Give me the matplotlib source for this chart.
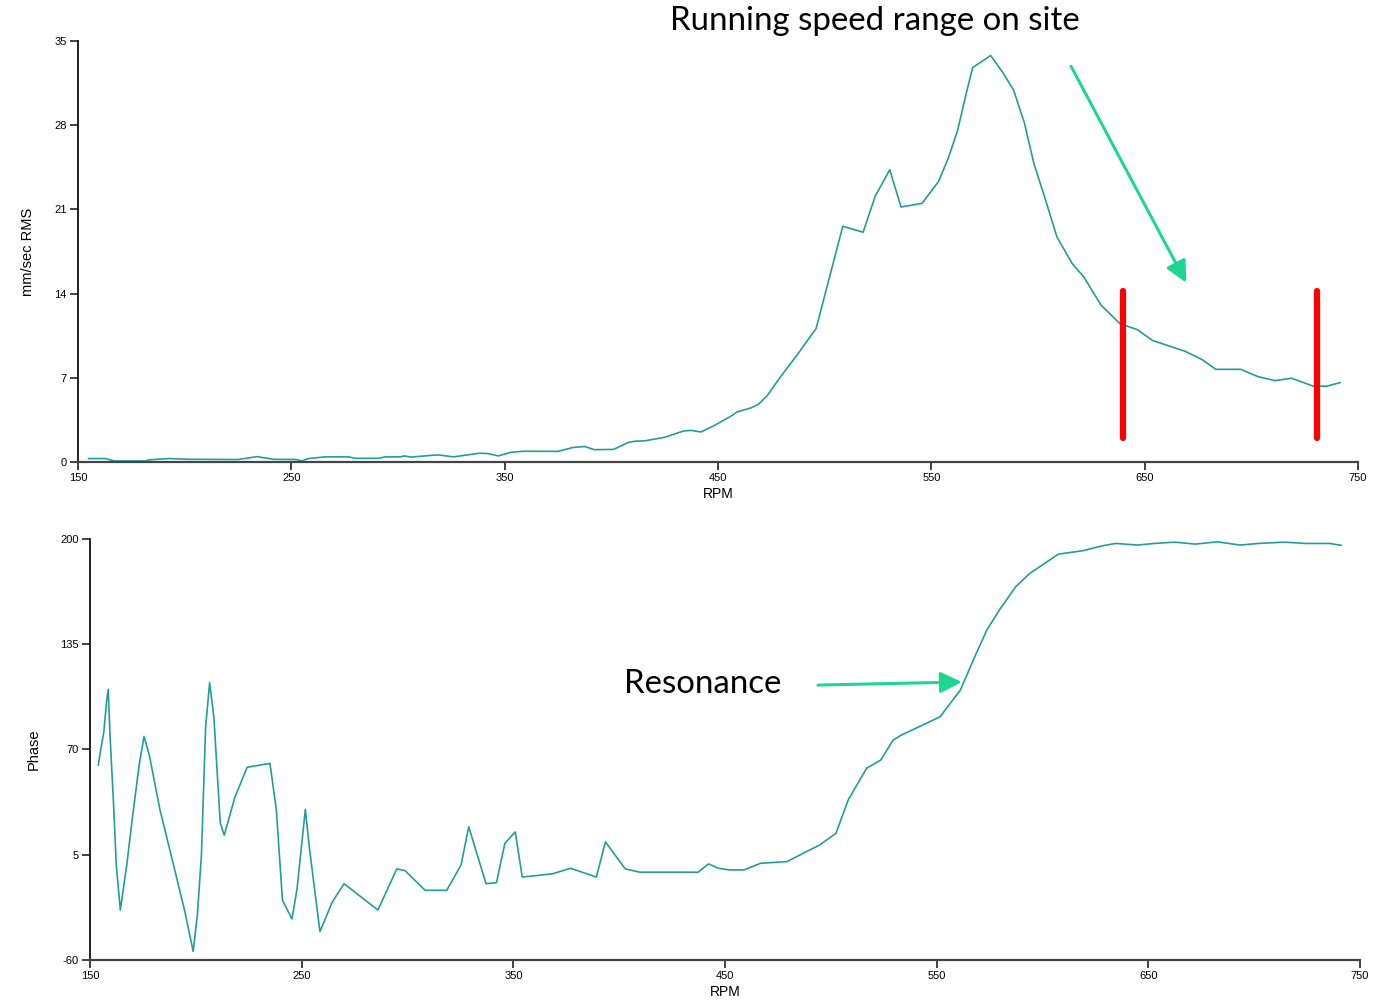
import matplotlib
matplotlib.use("Agg")
import matplotlib.pyplot as plt

plt.rcParams["axes.unicode_minus"] = False

# Vibration amplitude (mm/sec RMS) against shaft speed
amp_rpm = [155, 163, 167, 182, 183, 192.5, 202, 225, 234, 241.6, 252, 255, 258, 265.7,
           277, 280, 291, 294, 301, 303, 306, 316, 319, 326, 338, 342, 347, 353, 359,
           375, 382, 387.5, 392, 401, 408, 411, 415.6, 425, 434, 437.5, 442, 448, 456,
           459, 465.6, 469, 473, 479, 487.5, 496, 508.5, 518, 523.7, 530.5, 535.8,
           545.6, 553.3, 557.8, 562.2, 566.7, 569.4, 577.8, 583.8, 588.6, 593.6, 598.1,
           603.5, 608.9, 616, 621.4, 629.5, 638.4, 646.5, 653.7, 669, 677, 683.3, 695,
           703, 711, 718.9, 729, 735.4, 741.6]
amp_mm_s = [0.28, 0.28, 0.08, 0.08, 0.17, 0.28, 0.22, 0.2, 0.44, 0.22, 0.2, 0.08, 0.28,
            0.42, 0.42, 0.3, 0.3, 0.42, 0.42, 0.5, 0.4, 0.55, 0.58, 0.42, 0.72, 0.7, 0.5,
            0.8, 0.89, 0.88, 1.2, 1.28, 1.02, 1.04, 1.62, 1.72, 1.75, 2.05, 2.58, 2.62,
            2.49, 3.0, 3.8, 4.16, 4.5, 4.8, 5.5, 7.0, 9.0, 11.1, 19.6, 19.1, 22.1, 24.3,
            21.2, 21.5, 23.3, 25.2, 27.5, 30.9, 32.8, 33.8, 32.3, 30.9, 28.2, 24.8, 21.8,
            18.7, 16.5, 15.4, 13.05, 11.5, 11.0, 10.1, 9.2, 8.5, 7.7, 7.7, 7.1, 6.76,
            6.96, 6.3, 6.3, 6.6]

# Phase (degrees) against shaft speed
phase_rpm = [153.9, 155, 156.5, 157.9, 158.6, 159.4, 161, 162.4, 164.3, 165.3, 167.3,
             170.2, 173.2, 175.5, 178, 183, 189.9, 194.8, 198.7, 200.7, 202.6, 204.6,
             206.5, 208.5, 211.5, 213.4, 218.3, 224.2, 235, 238, 240.9, 245.4, 247.8,
             251.7, 253.7, 258.6, 264.5, 270, 286, 294.9, 298.8, 308.3, 318.5, 325.3,
             328.9, 337.1, 342, 346, 350.9, 354.2, 361.7, 368.5, 377, 389.2, 393.5,
             402.9, 409.8, 432.4, 437.3, 442.2, 447, 452.3, 459, 466.8, 479.2, 494.7,
             502.4, 508.2, 516.9, 523.6, 529.4, 533.3, 551.6, 561.2, 568, 573.7, 579.6,
             587.3, 594, 607.5, 619, 627.8, 634.5, 645, 652.8, 662.5, 672.1, 682.7,
             693.3, 702, 714.5, 724.1, 735.7, 741.1]
phase_deg = [60.4, 69.6, 80.8, 101, 107.2, 79.7, 39, -1.7, -29.2, -20, -1.7, 29.8, 60.4,
             78.1, 66.5, 32.9, -3.8, -30.2, -54.7, -32.3, 4.4, 83.8, 111.3, 89.9, 24.8,
             17, 40, 59, 61.4, 32.9, -23.1, -34.7, -16, 32.9, 8.5, -42.5, -24.1, -12.9,
             -29.2, -3.8, -4.8, -17, -17, -1.3, 22.3, -12.9, -12.3, 12.1, 19, -8.8, -7.8,
             -6.8, -3.4, -8.8, 12.9, -3.8, -5.8, -5.8, -5.8, -0.7, -3.4, -4.4, -4.4, -0.3,
             0.7, 11, 18.2, 38.8, 58.4, 63.5, 75.8, 78.9, 90.2, 106.7, 127.3, 143.8,
             156.1, 170.5, 178.8, 190.7, 192.8, 195.7, 197.3, 196.3, 197.3, 198.1, 196.9,
             198.3, 196.3, 197.3, 198.1, 197.3, 197.3, 196.1]

rpm_ticks = [150, 250, 350, 450, 550, 650, 750]
amp_ticks = [0, 7, 14, 21, 28, 35]
phase_ticks = [-60, 5, 70, 135, 200]

# Operating speed window limits (RPM) and their marker height range (mm/sec)
site_speed_limits = [640, 731]
site_marker_span = (2.0, 14.2)

LINE = "#229d9d"
ARROW = "#1ed694"
TICK_FONT = ["Liberation Sans", "DejaVu Sans"]
NARROW_FONT = ["Liberation Sans Narrow", "Liberation Sans", "DejaVu Sans"]
NOTE_FONT = ["Lato", "DejaVu Sans"]

fig = plt.figure(figsize=(13.92, 10.02), dpi=100)
ax1 = fig.add_axes([0.056, 0.539, 0.9196, 0.420])
ax2 = fig.add_axes([0.0647, 0.042, 0.9123, 0.420])


def style_axis(ax, yticks, ylabel):
    for side in ("top", "right"):
        ax.spines[side].set_visible(False)
    ax.spines["left"].set_color("#111111")
    ax.spines["bottom"].set_color("#444444")
    ax.spines["left"].set_linewidth(1.3)
    ax.spines["bottom"].set_linewidth(1.6)
    ax.set_xlim(rpm_ticks[0], rpm_ticks[-1])
    ax.set_ylim(yticks[0], yticks[-1])
    ax.set_xticks(rpm_ticks)
    ax.set_yticks(yticks)
    ax.tick_params(axis="both", direction="out", length=6, width=1.2,
                   color="#222222", labelsize=8, pad=2)
    for lab in ax.get_xticklabels() + ax.get_yticklabels():
        lab.set_fontfamily(TICK_FONT)
    ax.set_xlabel("RPM", fontsize=10, family=TICK_FONT, labelpad=3)
    ax.set_ylabel(ylabel, fontsize=10.5, family=NARROW_FONT, labelpad=14)


# Amplitude panel
ax1.plot(amp_rpm, amp_mm_s, color=LINE, lw=1.2)
style_axis(ax1, amp_ticks, "mm/sec RMS")
ax1.vlines(site_speed_limits, *site_marker_span, colors="#ff0000", lw=4.5,
           capstyle="round")
ax1.annotate("", xy=(669.5, 14.9), xytext=(615.5, 32.9),
             arrowprops=dict(arrowstyle="-|>,head_length=0.65,head_width=0.32",
                             mutation_scale=20, lw=2.2, color=ARROW,
                             shrinkA=0, shrinkB=0))
fig.text(0.6285, 0.979, "Running speed range on site", ha="center", va="center",
         fontsize=23.8, family=NOTE_FONT, color="black")

# Phase panel
ax2.plot(phase_rpm, phase_deg, color=LINE, lw=1.2)
style_axis(ax2, phase_ticks, "Phase")
ax2.annotate("", xy=(561.9, 111.7), xytext=(493.9, 109.8),
             arrowprops=dict(arrowstyle="-|>,head_length=0.65,head_width=0.32",
                             mutation_scale=20, lw=2.2, color=ARROW,
                             shrinkA=0, shrinkB=0))
fig.text(0.505, 0.317, "Resonance", ha="center", va="center",
         fontsize=23.8, family=NOTE_FONT, color="black")

fig.savefig("out.png", dpi=100)
